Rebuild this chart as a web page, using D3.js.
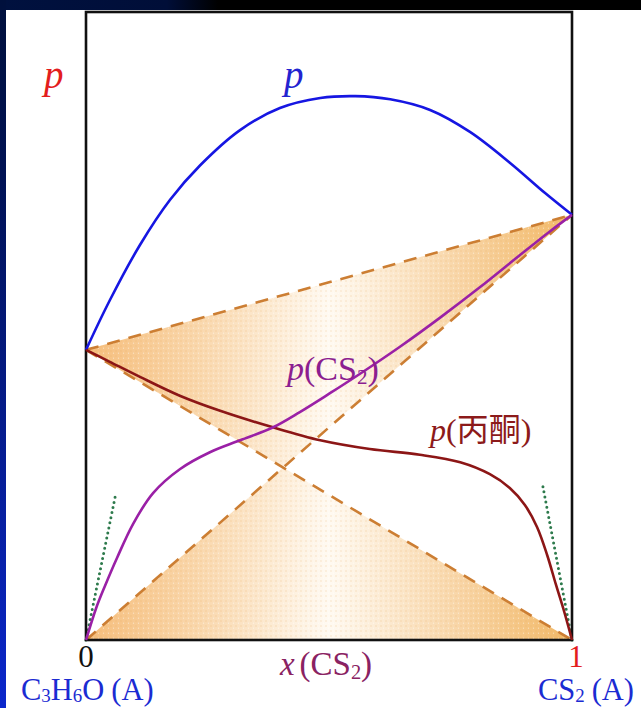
<!DOCTYPE html>
<html>
<head>
<meta charset="utf-8">
<script src="https://cdn.jsdelivr.net/npm/d3@7"></script>
<style>
  html, body { margin: 0; padding: 0; background: #ffffff; }
  svg { display: block; }
</style>
</head>
<body>
<svg id="chart" width="641" height="708"></svg>
<script>
// Vapour pressure of acetone (C3H6O) + CS2 mixtures against the mole fraction of CS2.
// Pressures are in arbitrary units on a 0–100 scale.
const pureAcetone = 46.2;   // p* of acetone at x(CS2) = 0
const pureCS2 = 67.7;       // p* of CS2 at x(CS2) = 1

// total vapour pressure p
const totalX = [0, 0.049, 0.111, 0.173, 0.235, 0.317, 0.399, 0.482, 0.554, 0.626, 0.708, 0.79, 0.872, 0.944, 1];
const totalP = [46.2, 54.1, 62.9, 70.1, 75.6, 81.2, 84.7, 86.3, 86.6, 86.1, 84.4, 80.9, 76.0, 71.2, 67.7];

// partial pressure of CS2
const cs2X = [0, 0.021, 0.039, 0.064, 0.097, 0.138, 0.193, 0.255, 0.317, 0.383, 0.44, 0.502, 0.564, 0.646, 0.728, 0.811, 0.893, 0.955, 1];
const cs2P = [0, 5.1, 8.6, 13.1, 18.5, 23.4, 27.2, 29.9, 31.8, 33.8, 36.3, 39.3, 42.4, 46.7, 51.3, 56.2, 61.3, 65.1, 67.7];

// partial pressure of acetone
const acetoneX = [0, 0.049, 0.111, 0.193, 0.276, 0.383, 0.482, 0.584, 0.687, 0.77, 0.831, 0.872, 0.903, 0.928, 0.949, 0.967, 0.984, 1];
const acetoneP = [46.2, 44.3, 41.9, 38.9, 36.5, 33.9, 31.8, 30.4, 29.5, 28.3, 26.4, 24.2, 21.5, 18.0, 13.5, 8.8, 4.5, 0];

// Henry's-law tangents at infinite dilution
const henryX = [[0, 0.06], [1, 0.94]];
const henryP = [[0, 22.8], [0, 24.5]];

const tickLabels = ["0", "1"];

const W = 641, H = 708;
const x = d3.scaleLinear().domain([0, 1]).range([86, 572]);
const y = d3.scaleLinear().domain([0, 100]).range([640, 12]);

const svg = d3.select("#chart");
const defs = svg.append("defs");

// slide-style backdrop: dark band on top, blue strip on the left
const topGrad = defs.append("linearGradient").attr("id", "topBand").attr("x1", 0).attr("x2", 1).attr("y1", 0).attr("y2", 0);
[[0, "#00113f"], [0.26, "#000e38"], [0.34, "#000000"], [1, "#000000"]].forEach(([o, c]) =>
  topGrad.append("stop").attr("offset", o).attr("stop-color", c));
const leftGrad = defs.append("linearGradient").attr("id", "leftBand").attr("x1", 0).attr("x2", 0).attr("y1", 0).attr("y2", 1);
[[0, "#00103c"], [0.25, "#001255"], [1, "#0b27cc"]].forEach(([o, c]) =>
  leftGrad.append("stop").attr("offset", o).attr("stop-color", c));

svg.append("rect").attr("width", W).attr("height", H).attr("fill", "#ffffff");
svg.append("rect").attr("width", W).attr("height", 10).attr("fill", "url(#topBand)");
svg.append("rect").attr("width", 6).attr("height", H).attr("fill", "url(#leftBand)");

// ideal-solution region (between Raoult lines), pale in the middle
const fillGrad = defs.append("linearGradient").attr("id", "ideal")
  .attr("gradientUnits", "userSpaceOnUse")
  .attr("x1", x(0)).attr("x2", x(1)).attr("y1", 0).attr("y2", 0);
[[0, "#f6be7c"], [0.22, "#f9d6aa"], [0.5, "#fffaf2"], [0.78, "#f8d4a4"], [1, "#f2b866"]].forEach(([o, c]) =>
  fillGrad.append("stop").attr("offset", o).attr("stop-color", c));

// fine stipple over the shaded region
const grain = defs.append("pattern").attr("id", "grain").attr("patternUnits", "userSpaceOnUse")
  .attr("width", 5).attr("height", 5);
grain.append("circle").attr("cx", 1).attr("cy", 1).attr("r", 0.7).attr("fill", "#e0a050").attr("opacity", 0.35);
grain.append("circle").attr("cx", 3.5).attr("cy", 3.2).attr("r", 0.6).attr("fill", "#ffffff").attr("opacity", 0.5);

const cross = pureAcetone / (pureAcetone + pureCS2);
const crossP = pureCS2 * cross;
const upperTri = [[0, pureAcetone], [1, pureCS2], [cross, crossP]];
const lowerTri = [[0, 0], [1, 0], [cross, crossP]];
const poly = pts => "M" + pts.map(d => [x(d[0]), y(d[1])].join(",")).join("L") + "Z";
[upperTri, lowerTri].forEach(t => {
  svg.append("path").attr("d", poly(t)).attr("fill", "url(#ideal)");
  svg.append("path").attr("d", poly(t)).attr("fill", "url(#grain)");
});

// Raoult's-law lines
const raoult = [
  [[0, pureAcetone], [1, 0]],
  [[0, 0], [1, pureCS2]],
  [[0, pureAcetone], [1, pureCS2]]
];
const straight = d3.line().x(d => x(d[0])).y(d => y(d[1]));
raoult.forEach(seg => svg.append("path").attr("d", straight(seg))
  .attr("fill", "none").attr("stroke", "#cc7e33").attr("stroke-width", 2.6)
  .attr("stroke-dasharray", "13,9"));

// Henry's-law tangents, dotted
henryX.forEach((hx, i) => {
  const pts = hx.map((v, j) => [v, henryP[i][j]]);
  svg.append("path").attr("d", straight(pts)).attr("fill", "none")
    .attr("stroke", "#2d7a4c").attr("stroke-width", 3)
    .attr("stroke-linecap", "round").attr("stroke-dasharray", "0,5.2");
});

// frame
svg.append("rect").attr("x", x(0)).attr("y", y(100))
  .attr("width", x(1) - x(0)).attr("height", y(0) - y(100))
  .attr("fill", "none").attr("stroke", "#111111").attr("stroke-width", 2.6);

// pressure curves
const curve = d3.line().curve(d3.curveCatmullRom.alpha(0.5)).x(d => x(d[0])).y(d => y(d[1]));
const series = [
  { xs: totalX, ps: totalP, color: "#1616e2" },
  { xs: acetoneX, ps: acetoneP, color: "#8c1616" },
  { xs: cs2X, ps: cs2P, color: "#9a20a6" }
];
series.forEach(s => svg.append("path")
  .attr("d", curve(s.xs.map((v, i) => [v, s.ps[i]])))
  .attr("fill", "none").attr("stroke", s.color).attr("stroke-width", 2.6));

// labels
const serif = "'Liberation Serif', 'DejaVu Serif', serif";
function label(px, py, color, size, parts, anchor, subDrop) {
  const drop = subDrop === undefined ? 0.12 : subDrop;
  const t = svg.append("text").attr("x", px).attr("y", py).attr("fill", color)
    .attr("font-family", serif).attr("font-size", size).attr("text-anchor", anchor || "start");
  parts.forEach(p => {
    const s = t.append("tspan").text(p.t);
    if (p.i) s.attr("font-style", "italic");
    if (p.sub) s.attr("font-size", size * 0.62).attr("dy", size * drop);
    if (p.up) s.attr("dy", -size * drop);
    if (p.dx) s.attr("dx", p.dx);
    if (p.f) s.attr("font-family", p.f);
  });
  return t;
}

label(44, 88, "#e31d1d", 39, [{ t: "p", i: 1 }]);
label(284, 88, "#2323d0", 39, [{ t: "p", i: 1 }]);
label(287, 380, "#8c1e90", 34, [{ t: "p", i: 1 }, { t: "(CS" }, { t: "2", sub: 1 }, { t: ")", up: 1 }]);
label(430, 441, "#8c1a1a", 32, [{ t: "p", i: 1 }, { t: "(" }, { t: "丙酮", f: "'Noto Sans CJK SC', sans-serif" }, { t: ")" }]);

label(x(0), 667, "#111111", 31, [{ t: tickLabels[0] }], "middle");
label(x(1) + 4, 667, "#e31d1d", 31, [{ t: tickLabels[1] }], "middle");
label(326, 675, "#8a2262", 33, [{ t: "x", i: 1 }, { t: "(CS", dx: 5 }, { t: "2", sub: 1 }, { t: ")", up: 1 }], "middle");

label(21, 700, "#1b2bd2", 30.5, [{ t: "C" }, { t: "3", sub: 1 }, { t: "H", up: 1 }, { t: "6", sub: 1 }, { t: "O", up: 1 }, { t: "(A)", dx: 7 }], "start", 0.07);
label(634, 700, "#1b2bd2", 30.5, [{ t: "CS" }, { t: "2", sub: 1 }, { t: "(A)", up: 1, dx: 7 }], "end", 0.07);
</script>
</body>
</html>
